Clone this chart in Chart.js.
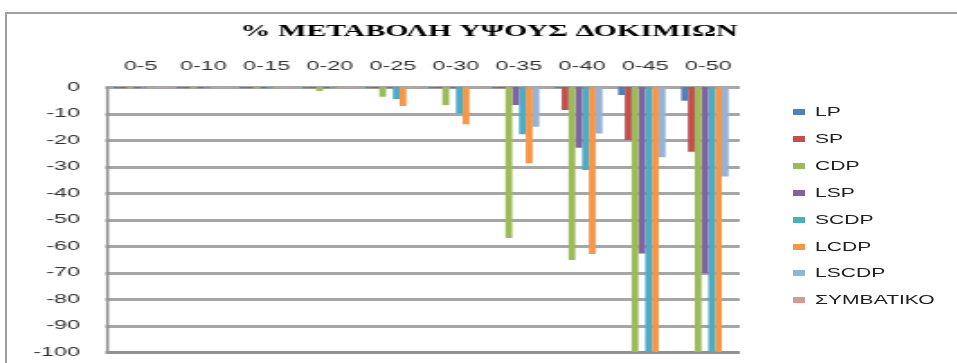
<!DOCTYPE html>
<html>
<head>
<meta charset="utf-8">
<script src="https://cdn.jsdelivr.net/npm/chart.js@4"></script>
<style>
  html, body { margin: 0; padding: 0; background: #fff; overflow: hidden; width: 957px; height: 363px; }
  #frame { position: absolute; left: 5px; top: 12px; width: 952px; height: 351px; box-sizing: border-box;
           border-left: 2px solid #a0a0a0; border-top: 2px solid #a0a0a0; }
  /* the chart is drawn narrow and stretched sideways, like the wide lettering of the export */
  #wrap { position: absolute; left: 0; top: 0; width: 532px; height: 363px;
          transform: scaleX(1.8); transform-origin: 0 0; }
  #myChart { display: block; width: 532px; height: 363px; }
  #legend { position: absolute; left: 793px; top: 0; }
  #legend .item { position: absolute; left: 0; height: 14px; white-space: nowrap; }
  #legend .swatch { position: absolute; left: 0; top: 4px; width: 12px; height: 6px; }
  #legend .name { position: absolute; left: 22px; top: 0; font: 13px 'Liberation Sans', sans-serif; line-height: 14px;
                  color: #202020; transform: scaleX(1.62); transform-origin: 0 50%; }
</style>
</head>
<body>
<div id="frame"></div>
<div id="wrap"><canvas id="myChart" width="532" height="363"></canvas></div>
<div id="legend"></div>
<script>
// % change of specimen height per interval
const categories = ['0-5', '0-10', '0-15', '0-20', '0-25', '0-30', '0-35', '0-40', '0-45', '0-50'];
const seriesNames = ['LP', 'SP', 'CDP', 'LSP', 'SCDP', 'LCDP', 'LSCDP', 'ΣΥΜΒΑΤΙΚΟ'];

const lp        = [-0.5, -0.5, -0.5, -0.5, -0.5, -0.5, -0.5, -0.5, -3, -5.2];
const sp        = [-0.5, -0.5, -0.5, -0.5, -0.5, -0.5, -0.5, -8.7, -20, -24.4];
const cdp       = [-0.5, -0.5, -0.5, -1.5, -3.7, -6.8, -57, -65.3, -100, -100];
const lsp       = [-0.5, -0.5, -0.5, -0.5, -0.5, -0.5, -6.8, -22.9, -62.8, -70.3];
const scdp      = [-0.5, -0.5, -0.5, -0.5, -4.5, -9.9, -17.8, -31.3, -100, -100];
const lcdp      = [-0.5, -0.5, -0.5, -0.5, -7.2, -14, -28.8, -63, -100, -100];
const lscdp     = [-0.5, -0.5, -0.5, -0.5, -0.5, -0.5, -15, -17.5, -26.5, -33.8];
const symvatiko = [-0.5, -0.5, -0.5, -0.5, -0.5, -0.5, -0.5, -0.5, -0.5, -0.5];

// y axis tick labels, top to bottom
const yTicks = [0, -10, -20, -30, -40, -50, -60, -70, -80, -90, -100];

const seriesValues = [lp, sp, cdp, lsp, scdp, lcdp, lscdp, symvatiko];
const seriesColors = ['#4f81bd', '#c0504d', '#9bbb59', '#8064a2', '#4bacc6', '#f79646', '#95b3d7', '#d99694'];

// excel style grid: grey rules at every tick, a heavier floor and the left axis line
const excelGrid = {
    id: 'excelGrid',
    beforeDatasetsDraw(chart) {
        const { ctx, chartArea, scales: { y } } = chart;
        const w = chartArea.right - chartArea.left;
        ctx.save();
        ctx.fillStyle = '#a6a6a6';
        yTicks.forEach(v => {
            const py = Math.round(y.getPixelForValue(v));
            ctx.fillRect(chartArea.left - 2, py - 1, w + 2, 3);
        });
        ctx.fillStyle = '#909090';
        ctx.fillRect(chartArea.left, Math.round(chartArea.bottom) - 1, w, 3);
        ctx.fillRect(chartArea.left - 1.6, chartArea.top, 1.6, chartArea.bottom - chartArea.top + 2);
        ctx.restore();
    }
};

const ctx = document.getElementById('myChart').getContext('2d');

const data = {
    labels: categories,
    datasets: seriesNames.map((name, i) => ({
        label: name,
        data: seriesValues[i],
        backgroundColor: seriesColors[i],
        borderWidth: 0,
        categoryPercentage: 0.86,
        barPercentage: 1.0
    }))
};

const tickFont = { family: 'Liberation Sans', size: 13 };

const options = {
    responsive: false,
    animation: false,
    layout: { padding: { left: 11.4, right: 0, top: 0, bottom: 11 } },
    scales: {
        x: {
            position: 'top',
            grid: { display: false, drawTicks: false },
            border: { display: false },
            ticks: { font: tickFont, color: '#303030', padding: 13, maxRotation: 0 },
            afterFit: s => { s.height = 30; }
        },
        y: {
            min: yTicks[yTicks.length - 1],
            max: yTicks[0],
            grid: { display: false, drawTicks: false },
            border: { display: false },
            ticks: { font: tickFont, color: '#303030', padding: 16, stepSize: yTicks[0] - yTicks[1] },
            // fixed axis width, and no extra room for the end labels
            afterFit: s => { s.width = 49.1; s.paddingTop = 0; s.paddingBottom = 0; }
        },
        // empty axis on the right that leaves room for the legend
        gap: {
            position: 'right',
            grid: { display: false },
            border: { display: false },
            ticks: { display: false },
            afterFit: s => { s.width = 121; }
        }
    },
    plugins: {
        title: {
            display: true,
            text: '% ΜΕΤΑΒΟΛΗ ΥΨΟΥΣ ΔΟΚΙΜΙΩΝ',
            color: '#000',
            font: { family: 'Liberation Serif', size: 16.7, weight: 'bold' },
            padding: { top: 22, bottom: 15 }
        },
        legend: { display: false },
        tooltip: { enabled: false }
    }
};

const myChart = new Chart(ctx, {
    type: 'bar',
    data: data,
    options: options,
    plugins: [excelGrid]
});

// legend column on the right
const legendEl = document.getElementById('legend');
seriesNames.forEach((name, i) => {
    const item = document.createElement('div');
    item.className = 'item';
    item.style.top = (105 + i * 26.9) + 'px';
    const swatch = document.createElement('span');
    swatch.className = 'swatch';
    swatch.style.background = seriesColors[i];
    const label = document.createElement('span');
    label.className = 'name';
    label.textContent = name;
    item.appendChild(swatch);
    item.appendChild(label);
    legendEl.appendChild(item);
});
</script>
</body>
</html>
